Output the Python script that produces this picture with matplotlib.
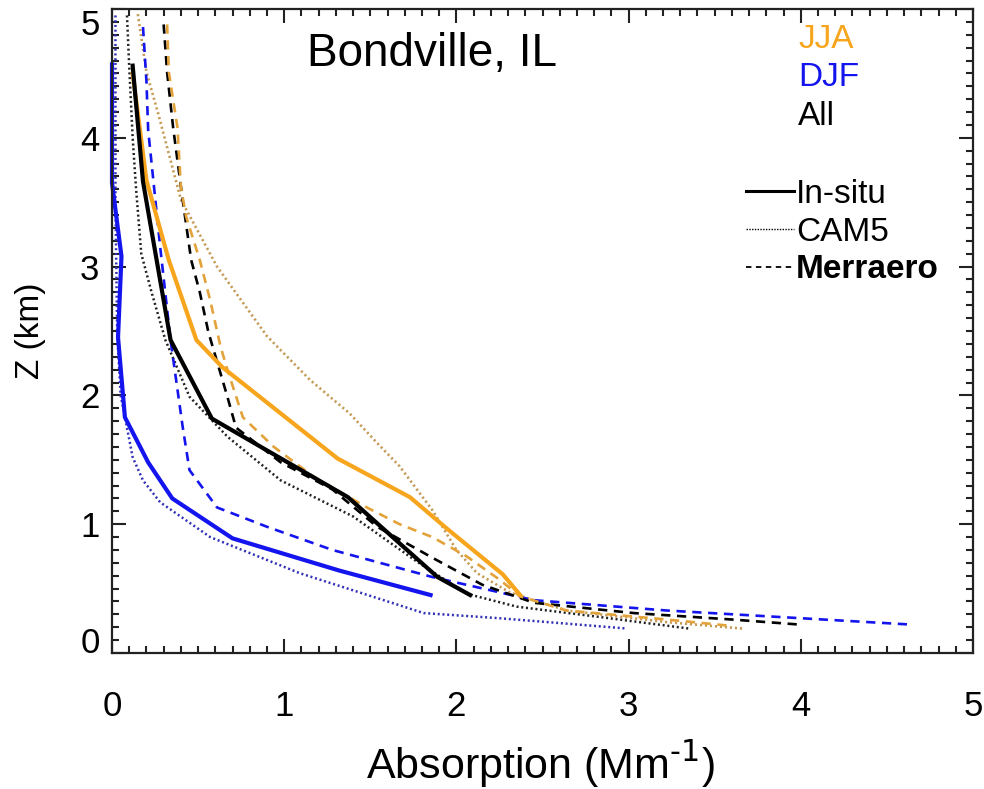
import matplotlib
matplotlib.use("Agg")
import matplotlib.pyplot as plt
from matplotlib.lines import Line2D
from matplotlib.ticker import MultipleLocator

plt.rcParams['font.family'] = ['Liberation Sans', 'DejaVu Sans']
plt.rcParams['mathtext.default'] = 'regular'

# In-situ (solid)
insitu_all_x = [0.12, 0.18, 0.34, 0.58, 1.37, 1.73, 1.89, 2.08]
insitu_all_z = [4.56, 3.66, 2.43, 1.82, 1.21, 0.78, 0.59, 0.45]
insitu_jja_x = [0.12, 0.20, 0.33, 0.49, 0.64, 1.31, 1.73, 1.95, 2.27, 2.37]
insitu_jja_z = [4.50, 3.67, 3.05, 2.43, 2.22, 1.51, 1.21, 0.96, 0.61, 0.45]
insitu_djf_x = [0.0, 0.0, 0.055, 0.035, 0.075, 0.21, 0.35, 0.70, 1.32, 1.85]
insitu_djf_z = [4.57, 3.65, 3.08, 2.45, 1.83, 1.48, 1.20, 0.89, 0.64, 0.45]

# CAM5 (dotted)
cam5_all_x = [0.087, 0.10, 0.12, 0.14, 0.17, 0.23, 0.31, 0.45, 0.67, 0.98, 1.40, 1.77, 2.06, 2.35, 2.83, 3.35]
cam5_all_z = [4.95, 4.55, 4.00, 3.60, 3.10, 2.80, 2.43, 1.99, 1.68, 1.34, 1.06, 0.71, 0.46, 0.36, 0.28, 0.19]
cam5_jja_x = [0.15, 0.20, 0.27, 0.40, 0.61, 0.90, 1.15, 1.38, 1.54, 1.67, 1.86, 2.00, 2.12, 2.31, 2.64, 3.22, 3.66]
cam5_jja_z = [4.96, 4.51, 4.18, 3.52, 3.00, 2.46, 2.12, 1.86, 1.63, 1.45, 1.11, 0.80, 0.62, 0.47, 0.33, 0.24, 0.19]
cam5_djf_x = [0.02, 0.02, 0.03, 0.05, 0.064, 0.12, 0.18, 0.28, 0.57, 1.09, 1.81, 2.25, 2.99]
cam5_djf_z = [4.95, 3.50, 2.50, 2.00, 1.91, 1.52, 1.34, 1.17, 0.90, 0.62, 0.31, 0.27, 0.19]

# Merraero (dashed)
merra_all_x = [0.30, 0.32, 0.355, 0.41, 0.46, 0.51, 0.56, 0.67, 0.72, 0.98, 1.28, 1.54, 1.86, 2.15, 2.45, 3.03, 3.60, 4.00]
merra_all_z = [4.88, 4.51, 4.08, 3.52, 3.05, 2.80, 2.49, 1.99, 1.75, 1.48, 1.27, 0.98, 0.74, 0.53, 0.39, 0.31, 0.26, 0.22]
merra_jja_x = [0.32, 0.33, 0.38, 0.40, 0.43, 0.51, 0.57, 0.63, 0.67, 0.76, 0.94, 1.17, 1.48, 1.67, 1.86, 2.06, 2.25, 2.37, 2.64, 3.22, 3.60]
merra_jja_z = [4.88, 4.51, 4.08, 3.62, 3.39, 3.05, 2.74, 2.38, 2.20, 1.83, 1.60, 1.37, 1.13, 1.00, 0.90, 0.75, 0.57, 0.44, 0.33, 0.26, 0.21]
merra_djf_x = [0.18, 0.20, 0.21, 0.24, 0.28, 0.34, 0.41, 0.45, 0.61, 0.90, 1.28, 1.86, 2.45, 3.22, 4.00, 4.65]
merra_djf_z = [4.86, 4.44, 4.06, 3.67, 3.15, 2.43, 1.76, 1.42, 1.13, 0.98, 0.80, 0.59, 0.41, 0.33, 0.27, 0.22]

season_labels = ['JJA', 'DJF', 'All']
source_labels = ['In-situ', 'CAM5', 'Merraero']

ORANGE = '#F7A51C'
ORANGE_DASH = '#E3A23A'
TAN = '#C49A55'
BLUE = '#1414EE'
BLUE_DOT = '#3030B8'

SOLID = '-'
DOT = (0, (0.8, 1.1))
DASH = (0, (3.5, 2.5))

fig = plt.figure(figsize=(9.84, 7.89), dpi=100)
ax = fig.add_axes([112 / 984, 1 - 653 / 789, 861 / 984, 644 / 789])

# dotted (CAM5)
ax.plot(cam5_djf_x, cam5_djf_z, color=BLUE_DOT, lw=1.8, ls=DOT)
ax.plot(cam5_all_x, cam5_all_z, color='#222222', lw=1.8, ls=DOT)
ax.plot(cam5_jja_x, cam5_jja_z, color=TAN, lw=1.9, ls=DOT)
# dashed (Merraero)
ax.plot(merra_djf_x, merra_djf_z, color=BLUE, lw=1.9, ls=DASH)
ax.plot(merra_all_x, merra_all_z, color='black', lw=1.9, ls=DASH)
ax.plot(merra_jja_x, merra_jja_z, color=ORANGE_DASH, lw=1.9, ls=DASH)
# solid (in-situ)
ax.plot(insitu_djf_x, insitu_djf_z, color=BLUE, lw=3.0, clip_on=False)
ax.plot(insitu_jja_x, insitu_jja_z, color=ORANGE, lw=3.0)
ax.plot(insitu_all_x, insitu_all_z, color='black', lw=3.0)

ax.set_xlim(0, 5)
ax.set_ylim(0, 5)
ax.xaxis.set_major_locator(MultipleLocator(1))
ax.yaxis.set_major_locator(MultipleLocator(1))
ax.xaxis.set_minor_locator(MultipleLocator(0.1))
ax.yaxis.set_minor_locator(MultipleLocator(0.1))
ax.tick_params(which='both', direction='in', top=True, right=True,
               width=1.5, color='#222222')
ax.tick_params(which='major', length=10)
ax.tick_params(which='minor', length=5)
ax.tick_params(axis='x', which='major', labelsize=25, pad=27)
ax.tick_params(axis='y', which='major', labelsize=25, pad=9)
for s in ax.spines.values():
    s.set_linewidth(1.6)
    s.set_color('#222222')

# end labels sit inside the axis range, as in the original
fig.canvas.draw()
for t in ax.yaxis.get_major_ticks():
    if abs(t.get_loc() - 0) < 1e-6:
        t.label1.set_va('baseline')
    elif abs(t.get_loc() - 5) < 1e-6:
        t.label1.set_va('top')

ax.set_xlabel('Absorption (Mm$^{\\text{-1}}$)', fontsize=31)
ax.xaxis.set_label_coords(0.497, -0.133)
ax.set_ylabel('Z (km)', fontsize=24)
ax.yaxis.set_label_coords(-0.077, 0.5)

ax.text(1.86, 4.65, 'Bondville, IL', fontsize=33, ha='center', va='center')

# season colour key
blank = [Line2D([], [], ls='none') for _ in season_labels]
leg1 = ax.legend(blank, season_labels, loc='upper left',
                 bbox_to_anchor=((798 - 112) / 861, (653 - 24) / 644),
                 frameon=False, handlelength=0, handletextpad=0,
                 borderpad=0, borderaxespad=0, labelspacing=0.22,
                 fontsize=24, labelcolor=[ORANGE, BLUE, 'black'])
ax.add_artist(leg1)

# line-style key
handles = [Line2D([], [], color='black', lw=2.2, ls=SOLID),
           Line2D([], [], color='black', lw=1.0, ls=(0, (1, 1))),
           Line2D([], [], color='black', lw=1.3, ls=(0, (3, 2.5)))]
leg2 = ax.legend(handles, source_labels, loc='upper left',
                 bbox_to_anchor=((746 - 112) / 861, (653 - 179) / 644),
                 frameon=False, handlelength=1.45, handletextpad=0.05,
                 borderpad=0, borderaxespad=0, labelspacing=0.2,
                 fontsize=24)
leg2.get_texts()[2].set_fontweight('bold')

fig.savefig('out.png', dpi=100)
